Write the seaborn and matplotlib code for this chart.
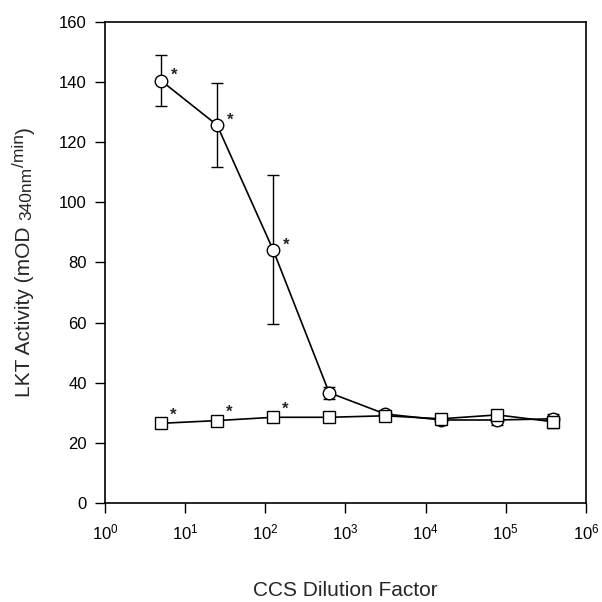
import matplotlib
matplotlib.use("Agg")
import matplotlib.pyplot as plt
import seaborn as sns
import numpy as np
import pandas as pd
from matplotlib.ticker import LogLocator, NullLocator, LogFormatterMathtext

# Data
dilution = [5, 25, 125, 625, 3125, 15625, 78125, 390625]
circle_vals = [140.5, 125.7, 84.2, 36.7, 29.6, 27.6, 27.6, 28.0]
circle_err = [8.5, 14.0, 24.8, 2.0, 1.0, 1.0, 1.5, 1.5]
square_vals = [26.5, 27.4, 28.5, 28.5, 29.0, 28.0, 29.3, 27.0]
square_err = [1.5, 1.0, 1.0, 1.0, 1.0, 1.0, 1.5, 2.0]
circle_sig = [True, True, True, False, False, False, False, False]
square_sig = [True, True, True, False, False, False, False, False]
y_ticks = [0, 20, 40, 60, 80, 100, 120, 140, 160]
ylabel_parts = ["LKT Activity (mOD ", "340nm", "/min", ")"]

sns.set_style("ticks")
plt.rcParams['font.family'] = ['Liberation Sans', 'DejaVu Sans']
plt.rcParams['mathtext.fontset'] = 'custom'
plt.rcParams['mathtext.rm'] = 'Liberation Sans'
plt.rcParams['mathtext.it'] = 'Liberation Sans'

fig = plt.figure(figsize=(6.02, 6.02), dpi=100)
ax = fig.add_axes([0.1744, 0.1645, 0.799, 0.799])

df = pd.DataFrame({
    "x": dilution * 2,
    "y": circle_vals + square_vals,
    "series": ["circle"] * len(dilution) + ["square"] * len(dilution),
})

# error bars
ax.errorbar(dilution, circle_vals, yerr=circle_err, fmt='none', ecolor='black',
            elinewidth=1.0, capsize=4.5, capthick=1.0, zorder=1)
ax.errorbar(dilution, square_vals, yerr=square_err, fmt='none', ecolor='black',
            elinewidth=1.0, capsize=4.5, capthick=1.0, zorder=1)

sns.lineplot(data=df[df.series == "circle"], x="x", y="y", ax=ax, color='black',
             linewidth=1.2, marker='o', markersize=9, markerfacecolor='white',
             markeredgecolor='black', markeredgewidth=1.0, zorder=3, legend=False)
sns.lineplot(data=df[df.series == "square"], x="x", y="y", ax=ax, color='black',
             linewidth=1.2, marker='s', markersize=8, markerfacecolor='white',
             markeredgecolor='black', markeredgewidth=1.0, zorder=4, legend=False)

for xv, yv, s in zip(dilution, circle_vals, circle_sig):
    if s:
        ax.annotate('*', (xv, yv), xytext=(7, 3.5), textcoords='offset points',
                    fontsize=12, fontweight='bold', ha='left', va='center')
for xv, yv, s in zip(dilution, square_vals, square_sig):
    if s:
        ax.annotate('*', (xv, yv), xytext=(6.5, 6), textcoords='offset points',
                    fontsize=12, fontweight='bold', ha='left', va='center')

ax.set_xscale('log')
ax.set_xlim(1, 1e6)
ax.set_ylim(0, 160)
ax.set_yticks(y_ticks)
ax.xaxis.set_major_locator(LogLocator(base=10, numticks=10))
ax.xaxis.set_minor_locator(NullLocator())
ax.xaxis.set_major_formatter(LogFormatterMathtext())

for sp in ax.spines.values():
    sp.set_visible(True)
    sp.set_color('black')
    sp.set_linewidth(1.2)

ax.tick_params(axis='both', direction='out', length=7, width=1.0, colors='black',
               labelsize=12, top=False, right=False)
ax.tick_params(axis='x', pad=7)
ax.tick_params(axis='y', pad=6)

ax.set_xlabel('CCS Dilution Factor', fontsize=15)
ax.xaxis.set_label_coords(0.5, -0.163)
ax.set_ylabel('')

# y label built from pieces (sub/superscript at near-full size)
renderer = fig.canvas.get_renderer()
W, H = fig.bbox.width, fig.bbox.height
sizes = [15, 12.5, 12.5, 15]
shifts_px = [0, 1.5, -6, 0]  # + = toward right (down in reading direction)
xc = 25
texts = []
lengths = []
for part, fs in zip(ylabel_parts, sizes):
    t = fig.text(0, 0, part, rotation=90, fontsize=fs, ha='center', va='bottom',
                 rotation_mode='default')
    bb = t.get_window_extent(renderer)
    texts.append(t)
    lengths.append(bb.height)
total = sum(lengths)
center_y = H - 262
y = center_y - total / 2
for t, L, fs, sh in zip(texts, lengths, sizes, shifts_px):
    t.set_position(((xc + sh) / W, y / H))
    y += L

fig.savefig('out.png', dpi=100)
